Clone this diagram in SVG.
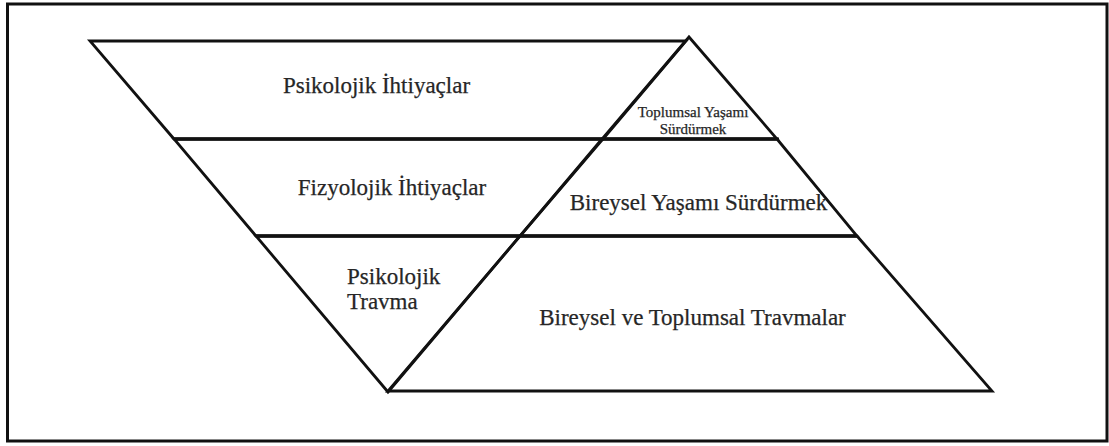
<svg xmlns="http://www.w3.org/2000/svg" width="1109" height="446" viewBox="0 0 1109 446">
  <style>
    .band { fill: none; stroke: #111; stroke-width: 2.8; stroke-linejoin: miter; }
    .frame { fill: #fff; stroke: #111; stroke-width: 3; }
    .lbl { font-family: "Liberation Serif", "Times New Roman", serif; font-size: 23px; fill: #262626; stroke: #262626; stroke-width: 0.25; }
    .small { font-size: 15px; }
    .mid { text-anchor: middle; }
  </style>

  <!-- outer frame -->
  <rect class="frame" x="7.5" y="4" width="1099.5" height="437"/>

  <!-- inverted triangle: needs and trauma -->
  <g id="psikolojik-ihtiyaclar">
    <polygon class="band" points="90,41 686,41 603,139 174,139"/>
    <text class="lbl mid" x="376.5" y="93">Psikolojik İhtiyaçlar</text>
  </g>
  <g id="fizyolojik-ihtiyaclar">
    <polygon class="band" points="174,139 603,139 520,236 256,236"/>
    <text class="lbl mid" x="392" y="195">Fizyolojik İhtiyaçlar</text>
  </g>
  <g id="psikolojik-travma">
    <polygon class="band" points="256,236 520,236 388,392"/>
    <text class="lbl" x="347" y="284">Psikolojik</text>
    <text class="lbl" x="347" y="309">Travma</text>
  </g>

  <!-- upright triangle: sustaining life and traumas -->
  <g id="toplumsal-yasami">
    <polygon class="band" points="689,37 777,139 602,139"/>
    <text class="lbl small mid" x="693" y="117">Toplumsal Yaşamı</text>
    <text class="lbl small mid" x="693" y="134">Sürdürmek</text>
  </g>
  <g id="bireysel-yasami">
    <polygon class="band" points="602,139 777,139 857,236 520,236"/>
    <text class="lbl mid" x="698.5" y="210">Bireysel Yaşamı Sürdürmek</text>
  </g>
  <g id="travmalar">
    <polygon class="band" points="520,236 857,236 992,391 388,391"/>
    <text class="lbl mid" x="692.5" y="325">Bireysel ve Toplumsal Travmalar</text>
  </g>

  <!-- dividing lines run slightly past the slanted sides -->
  <g id="connectors">
    <line class="band" x1="174" y1="139" x2="779" y2="139"/>
    <line class="band" x1="256" y1="236" x2="857" y2="236"/>
  </g>
</svg>
